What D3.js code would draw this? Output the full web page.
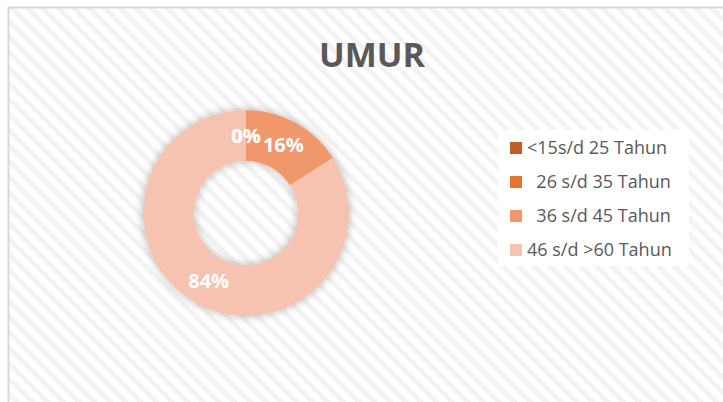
<!DOCTYPE html>
<html>
<head>
<meta charset="utf-8">
<script src="https://cdn.jsdelivr.net/npm/d3@7"></script>
<style>
  body { margin: 0; background: #fff; }
  svg { display: block; font-family: "Open Sans", "Liberation Sans", sans-serif; }
</style>
</head>
<body>
<script>
(function (d3) {
  "use strict";

  /***** Data *****/
  var categories = ["<15s/d 25 Tahun", "  26 s/d 35 Tahun", "  36 s/d 45 Tahun", "46 s/d >60 Tahun"];
  var values = [0, 0, 16, 84];
  var labels = ["0%", "0%", "16%", "84%"];
  var colors = ["#C05F26", "#E2762F", "#F0986C", "#F5C3B0"];

  /***** Configuration *****/
  var width = 723, height = 402;
  var cx = 246, cy = 213;
  var outerR = 103, innerR = 52;

  var svg = d3.select("body").append("svg")
    .attr("width", width)
    .attr("height", height);

  var defs = svg.append("defs");
  var pat = defs.append("pattern")
    .attr("id", "stripes")
    .attr("patternUnits", "userSpaceOnUse")
    .attr("width", 11).attr("height", 11)
    .attr("patternTransform", "rotate(-45)");
  pat.append("rect").attr("width", 11).attr("height", 11).attr("fill", "#ffffff");
  pat.append("rect").attr("width", 5).attr("height", 11).attr("fill", "#f3f3f3");

  var shadow = defs.append("filter").attr("id", "shadow")
    .attr("x", "-20%").attr("y", "-20%").attr("width", "140%").attr("height", "140%");
  shadow.append("feDropShadow")
    .attr("dx", 0).attr("dy", 0)
    .attr("stdDeviation", 4)
    .attr("flood-color", "#000")
    .attr("flood-opacity", 0.3);

  // background + border
  svg.append("rect").attr("width", width).attr("height", height).attr("fill", "#fff");
  svg.append("rect")
    .attr("x", 8.5).attr("y", 7.5)
    .attr("width", width + 10).attr("height", height + 10)
    .attr("fill", "url(#stripes)")
    .attr("stroke", "#d9d9d9")
    .attr("stroke-width", 2);

  // title
  svg.append("text")
    .attr("x", 372).attr("y", 67)
    .attr("text-anchor", "middle")
    .attr("font-size", 34)
    .attr("font-weight", "bold")
    .attr("fill", "#595959")
    .text("UMUR");

  /***** Donut *****/
  var pie = d3.pie().sort(null).value(function (d) { return d; });
  var arcs = pie(values);
  var arc = d3.arc().innerRadius(innerR).outerRadius(outerR);
  var labelArc = d3.arc().innerRadius((innerR + outerR) / 2).outerRadius((innerR + outerR) / 2);

  var g = svg.append("g").attr("transform", "translate(" + cx + "," + cy + ")");
  g.append("g").attr("filter", "url(#shadow)")
    .selectAll("path")
    .data(arcs)
    .enter().append("path")
    .attr("d", arc)
    .attr("fill", function (d, i) { return colors[i]; });

  g.selectAll("text.lbl")
    .data(arcs)
    .enter().append("text")
    .attr("class", "lbl")
    .attr("transform", function (d) {
      var c = labelArc.centroid(d);
      return "translate(" + c[0] + "," + (c[1] + 7) + ")";
    })
    .attr("text-anchor", "middle")
    .attr("font-size", 20)
    .attr("font-weight", "bold")
    .attr("fill", "#fff")
    .text(function (d, i) { return labels[i]; });

  /***** Legend *****/
  svg.append("rect")
    .attr("x", 498).attr("y", 130)
    .attr("width", 191).attr("height", 136)
    .attr("fill", "#fff");

  var legend = svg.append("g");
  var item = legend.selectAll("g")
    .data(categories)
    .enter().append("g")
    .attr("transform", function (d, i) { return "translate(510," + (148 + i * 34) + ")"; });
  item.append("rect")
    .attr("x", 0).attr("y", -6)
    .attr("width", 12).attr("height", 12)
    .attr("fill", function (d, i) { return colors[i]; });
  item.append("text")
    .attr("x", 17).attr("y", 6)
    .attr("font-size", 18)
    .attr("fill", "#595959")
    .style("white-space", "pre")
    .text(function (d) { return d; });

})(d3);
</script>
</body>
</html>
